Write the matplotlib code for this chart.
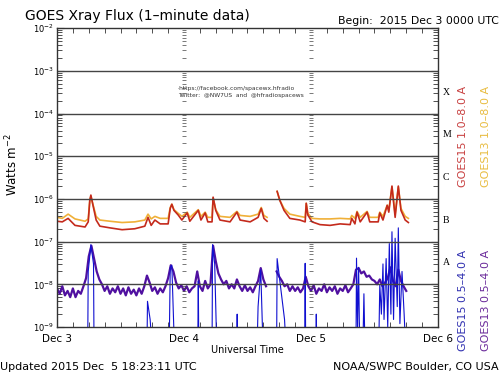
import numpy as np
import matplotlib
matplotlib.use("Agg")
import matplotlib.pyplot as plt
from matplotlib.ticker import FixedLocator, NullFormatter

# long channel (1.0-8.0 A), hours since 2015 Dec 3 00:00, values in 1e-7 W/m2
t_long = [0.0, 1.0, 2.1, 3.4, 5.3, 5.9, 6.2, 6.4, 6.8, 7.4, 8.1, 10.0, 12.3, 14.7,
          16.6, 17.2, 17.8, 18.5, 19.5, 21.0, 21.4, 21.7, 22.1, 22.9, 23.6, 24.6,
          25.1, 26.7, 27.2, 28.0, 28.5, 29.3, 29.5, 30.0, 30.8, 32.7, 34.0, 34.6,
          36.5, 38.0, 38.6, 39.1, 39.7, 39.8, 41.6, 42.1, 42.9, 44.0, 45.9, 46.9,
          47.1, 47.4, 48.2, 49.7, 51.6, 53.5, 55.4, 55.7, 56.3, 56.7, 57.3, 58.6,
          59.1, 60.7, 61.0, 61.6, 62.4, 62.7, 63.3, 63.9, 64.5, 65.0, 65.8, 66.4]
goes15_long = [3.0, 2.9, 3.5, 2.4, 2.2, 2.9, 9.3, 12.3, 7.1, 3.2, 2.3, 2.1, 1.9, 2.0,
               2.3, 3.7, 2.4, 3.2, 2.6, 2.6, 6.0, 7.5, 5.4, 4.2, 3.2, 4.7,
               3.0, 5.4, 3.2, 4.7, 2.9, 2.9, 11.0, 5.4, 3.2, 2.9, 4.9, 3.2,
               2.9, 3.7, 6.0, 3.5, 3.0, np.nan, 15.0, 9.3, 5.4, 3.5, 3.2, 2.9,
               7.9, 4.2, 2.9, 2.5, 2.4, 2.6, 2.5, 3.5, 2.6, 4.9, 2.9, 4.9,
               2.9, 2.9, 4.7, 3.2, 7.1, 4.9, 20.0, 3.7, 20.0, 5.4, 3.2, 2.8]
goes13_long = [3.7, 3.5, 4.4, 3.4, 3.0, 3.4, 9.3, 11.5, 7.4, 3.9, 3.2, 3.0, 2.8, 2.9,
               3.2, 4.4, 3.4, 3.9, 3.5, 3.5, 6.3, 7.5, 5.6, 4.6, 3.9, 4.9,
               3.7, 5.6, 3.9, 4.9, 3.7, 3.7, 10.5, 5.6, 3.9, 3.7, 5.1, 4.1,
               3.9, 4.4, 6.3, 4.1, 3.7, np.nan, 15.0, 9.3, 6.0, 4.4, 3.9, 3.7,
               7.9, 4.6, 3.5, 3.4, 3.4, 3.5, 3.4, 4.1, 3.5, 5.1, 3.7, 5.1,
               3.7, 3.7, 4.9, 3.9, 7.1, 5.4, 19.0, 4.4, 19.0, 6.0, 3.9, 3.5]

# GOES13 short channel (0.5-4.0 A), every 30 min, values in 1e-9 W/m2
goes13_short = [8, 6, 9, 5.5, 7, 5, 8, 5, 7, 6, 9, 14, 45, 80, 40, 20, 13, 10, 7, 9,
                6, 8, 6.5, 9, 6, 8, 5.5, 8.5, 6, 7.5, 5.5, 8, 6, 9, 16, 11, 7, 8.5, 6, 8,
                6.5, 9, 14, 28, 20, 11, 8, 9.5, 7, 9, 6.5, 8, 9, 20, 9, 7, 12, 8, 10, 80,
                35, 18, 13, 10, 12, 8, 10, 8, 13, 9, 7, 9.5, 7, 8.5, 6.5, 9, 12, 24, 13, 9,
                np.nan, np.nan, np.nan, 20, 15, 12, 9, 10, 7, 9, 7, 8.5, 6.5, 8, 15, 9, 7, 9.5, 6, 8,
                7, 10, 6.5, 8.5, 7, 9, 6, 8, 7, 9.5, 6.5, 8, 10, 22, 24, 18, 20, 15, 16, 13,
                12, 10, 13, 9, 11, 14, 25, 12, 9, 22, 12, 9, 7]
t_short = np.arange(len(goes13_short)) * 0.5

# GOES15 short channel: mostly below 1e-9, values in 1e-9 W/m2 (0.3 = off scale)
t_g15s = [5.8, 5.9, 6.4, 6.9, 7.0, 17.0, 17.1, 17.6, 18.0, 21.2, 21.4, 21.7, 22.2,
          26.6, 26.7, 26.8, 29.3, 29.4, 29.8, 30.2, 34.0, 34.05, 34.1,
          37.8, 38.0, 38.5, 38.8, 39.0, 41.5, 41.6, 43.0, 43.3, 46.8, 46.9, 47.0,
          48.9, 49.0, 49.1, 56.5, 56.6, 56.8, 57.0, 57.2, 57.8, 58.0, 58.2,
          60.8, 61.0, 61.3, 61.6, 61.8, 62.2, 62.5, 62.8, 63.1, 63.3, 63.6, 63.9,
          64.3, 64.5, 64.8, 65.2, 65.6, 65.9]
goes15_short = [0.3, 20, 85, 30, 0.3, 0.3, 4, 1.5, 0.3, 0.3, 25, 28, 0.3,
                0.3, 12, 0.3, 0.3, 85, 30, 0.3, 0.3, 2, 0.3,
                0.3, 3, 22, 1.2, 0.3, 0.3, 40, 1.5, 0.3, 0.3, 31, 0.3,
                0.3, 2, 0.3, 0.3, 41, 1, 25, 0.3, 0.3, 6, 0.3,
                0.3, 10, 2, 30, 1.5, 40, 1, 90, 2, 170, 1.5, 120,
                3, 210, 1.2, 20, 2, 0.3]

day_ticks = [0, 24, 48, 72]
day_labels = ["Dec 3", "Dec 4", "Dec 5", "Dec 6"]
class_labels = ["X", "M", "C", "B", "A"]
class_levels = [10**-3.5, 10**-4.5, 10**-5.5, 10**-6.5, 10**-7.5]

fig = plt.figure(figsize=(5, 3.75), dpi=100)
ax = fig.add_axes([0.114, 0.128, 0.762, 0.797])

c_red = "#c42a1c"
c_orange = "#f0b038"
c_blue = "#1010d0"
c_purple = "#5010a0"

ax.plot(t_long, np.array(goes13_long) * 1e-7, color=c_orange, lw=1.2)
ax.plot(t_long, np.array(goes15_long) * 1e-7, color=c_red, lw=1.2)
ax.plot(t_short, np.array(goes13_short) * 1e-9, color=c_purple, lw=1.6)
ax.plot(t_g15s, np.array(goes15_short) * 1e-9, color=c_blue, lw=0.8)

ax.set_yscale("log")
ax.set_ylim(1e-9, 1e-2)
ax.set_xlim(0, 72)

# decade lines
for e in range(-8, -2):
    ax.axhline(10.0**e, color="#444444", lw=1.0)

# little tick columns at the day boundaries
minor_vals = [m * 10.0**e for e in range(-9, -2) for m in range(2, 10)]
for d in [24, 48]:
    ax.plot([d] * len(minor_vals), minor_vals, ls="none", marker="_", ms=3,
            mew=0.5, color="#444444")

ax.xaxis.set_major_locator(FixedLocator(day_ticks))
ax.set_xticklabels(day_labels, fontsize=7.5)
ax.xaxis.set_minor_locator(FixedLocator(np.arange(0, 73, 3)))
ax.set_yticks([10.0**e for e in range(-9, -1)])
ax.set_yticklabels([r"$10^{%d}$" % e for e in range(-9, -1)], fontsize=6)
ax.yaxis.set_minor_locator(FixedLocator(minor_vals))
ax.yaxis.set_minor_formatter(NullFormatter())
ax.tick_params(which="both", direction="in", top=True, right=True, color="#333333")
ax.tick_params(which="major", length=5, width=0.8, pad=2)
ax.tick_params(which="minor", length=3.5, width=0.6)
ax.tick_params(axis="x", which="major", length=0, pad=5)
for s in ax.spines.values():
    s.set_color("#333333")
    s.set_linewidth(1.0)

for lab, lev in zip(class_labels, class_levels):
    ax.text(1.012, lev, lab, transform=ax.get_yaxis_transform(), fontsize=7,
            family="Liberation Serif", va="center", ha="left")

ax.set_xlabel("Universal Time", fontsize=7, labelpad=1)
fig.text(0.024, 0.56, r"Watts m$^{-2}$", rotation=90, fontsize=8.5,
         ha="center", va="center")

fig.text(0.05, 0.957, "GOES Xray Flux (1\u2013minute data)", fontsize=10, ha="left", va="center")
fig.text(0.998, 0.945, "Begin:  2015 Dec 3 0000 UTC", fontsize=7.8, ha="right", va="center")
fig.text(0.0, 0.022, "Updated 2015 Dec  5 18:23:11 UTC", fontsize=8, ha="left", va="center")
fig.text(0.998, 0.022, "NOAA/SWPC Boulder, CO USA", fontsize=8, ha="right", va="center")

fig.text(0.926, 0.635, "GOES15 1.0\u20138.0 A", color="#c84040", rotation=90,
         fontsize=8, ha="center", va="center")
fig.text(0.972, 0.635, "GOES13 1.0\u20138.0 A", color="#e8bc40", rotation=90,
         fontsize=8, ha="center", va="center")
fig.text(0.926, 0.2, "GOES15 0.5\u20134.0 A", color="#3030b0", rotation=90,
         fontsize=8, ha="center", va="center")
fig.text(0.972, 0.2, "GOES13 0.5\u20134.0 A", color="#6a2a9a", rotation=90,
         fontsize=8, ha="center", va="center")

fig.text(0.356, 0.765, "-https://facebook.com/spacewx.hfradio", fontsize=4.3,
         color="#333333", ha="left", va="center")
fig.text(0.356, 0.745, "Twitter:  @NW7US  and  @hfradiospacews", fontsize=4.3,
         color="#333333", ha="left", va="center")

fig.savefig("out.png", dpi=100)
